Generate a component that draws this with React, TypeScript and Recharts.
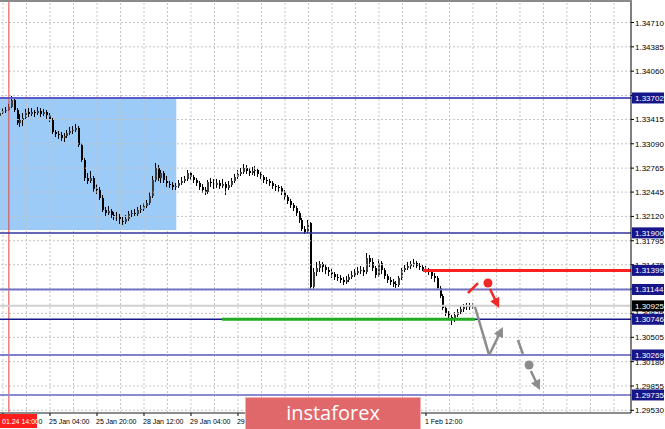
import React from "react";
import { ComposedChart, Bar, XAxis, YAxis, ReferenceLine, ReferenceArea, ReferenceDot } from "recharts";

// GBP/USD H1, 24 Jan 11:00 .. 1 Feb 2019
const firstOpen = 1.33461;
const closes = [
  1.33501, 1.33528, 1.33541, 1.33582, 1.33675, 1.33541, 1.33368, 1.33408, 1.33435, 1.33515,
  1.33488, 1.33515, 1.33501, 1.33528, 1.33488, 1.33515, 1.33475, 1.33408, 1.33248, 1.33221,
  1.33208, 1.33168, 1.33194, 1.33234, 1.33261, 1.33274, 1.33301, 1.33074, 1.32874, 1.32633,
  1.32593, 1.32633, 1.32487, 1.32473, 1.32366, 1.32205, 1.32165, 1.32192, 1.32139, 1.32112,
  1.32125, 1.32059, 1.32045, 1.32086, 1.32152, 1.32165, 1.32152, 1.32205, 1.32219, 1.32259,
  1.32299, 1.32393, 1.32606, 1.32767, 1.32633, 1.327, 1.32606, 1.32553, 1.3254, 1.32513,
  1.32526, 1.32566, 1.32593, 1.3262, 1.327, 1.32647, 1.32606, 1.32566, 1.32513, 1.32473,
  1.32446, 1.3258, 1.32566, 1.3254, 1.32566, 1.32526, 1.32553, 1.325, 1.3254, 1.32593,
  1.32647, 1.32687, 1.32713, 1.32767, 1.32727, 1.327, 1.32727, 1.3274, 1.32687, 1.32647,
  1.32606, 1.32593, 1.32566, 1.32526, 1.32513, 1.325, 1.32446, 1.32379, 1.32326, 1.32272,
  1.32232, 1.32165, 1.32072, 1.31952, 1.31912, 1.32032, 1.31177, 1.31377, 1.31431, 1.31484,
  1.31444, 1.31404, 1.31377, 1.3135, 1.3131, 1.31297, 1.3127, 1.31243, 1.3127, 1.3131,
  1.31337, 1.31364, 1.3139, 1.31404, 1.31377, 1.31564, 1.31511, 1.31431, 1.31337, 1.31497,
  1.31404, 1.31324, 1.3127, 1.31243, 1.31217, 1.31203, 1.31297, 1.31404, 1.31431, 1.31457,
  1.31484, 1.31497, 1.31457, 1.31444, 1.31417, 1.31404, 1.31377, 1.31324, 1.31297, 1.31164,
  1.31057, 1.30896, 1.3083, 1.30776, 1.30736, 1.30803, 1.30843, 1.30883, 1.3091, 1.30923,
  1.3091, 1.30925,
];
const highs = [
  1.33541, 1.33568, 1.33582, 1.33622, 1.33729, 1.33689, 1.33568, 1.33488, 1.33501, 1.33555,
  1.33568, 1.33568, 1.33541, 1.33582, 1.33568, 1.33555, 1.33541, 1.33501, 1.33435, 1.33274,
  1.33261, 1.33248, 1.33234, 1.33274, 1.33315, 1.33328, 1.33355, 1.33328, 1.33101, 1.329,
  1.327, 1.32727, 1.3266, 1.32553, 1.32513, 1.32406, 1.32246, 1.32259, 1.32219, 1.32179,
  1.32179, 1.32152, 1.32112, 1.32139, 1.32192, 1.32205, 1.32219, 1.32246, 1.32272, 1.32299,
  1.32339, 1.32446, 1.3266, 1.32834, 1.32807, 1.3274, 1.32727, 1.3266, 1.32593, 1.3258,
  1.32566, 1.32606, 1.32647, 1.3266, 1.3274, 1.32713, 1.32673, 1.32633, 1.32593, 1.32553,
  1.32513, 1.32606, 1.32633, 1.3262, 1.3262, 1.32606, 1.3262, 1.3258, 1.32593, 1.32633,
  1.32687, 1.3274, 1.32767, 1.3282, 1.32807, 1.32767, 1.3278, 1.32793, 1.32754, 1.32713,
  1.32673, 1.32647, 1.3262, 1.32593, 1.32553, 1.3254, 1.32526, 1.32473, 1.32406, 1.32353,
  1.32299, 1.32259, 1.32192, 1.32099, 1.31992, 1.32072, 1.32045, 1.31431, 1.31511, 1.31524,
  1.31511, 1.31484, 1.31444, 1.31417, 1.31377, 1.3135, 1.31337, 1.3131, 1.31324, 1.3135,
  1.3139, 1.31417, 1.31444, 1.31457, 1.31444, 1.31631, 1.31604, 1.31564, 1.31457, 1.31551,
  1.31524, 1.31431, 1.3135, 1.3131, 1.31284, 1.31257, 1.31324, 1.31431, 1.31471, 1.31511,
  1.31524, 1.31551, 1.31524, 1.31497, 1.31471, 1.31457, 1.31431, 1.31404, 1.31364, 1.31324,
  1.3119, 1.31083, 1.30923, 1.30856, 1.30803, 1.30843, 1.30883, 1.30923, 1.3095, 1.30963,
  1.30963, 1.30963,
];
const lows = [
  1.33461, 1.33488, 1.33501, 1.33528, 1.33568, 1.33515, 1.33341, 1.33315, 1.33328, 1.33408,
  1.33448, 1.33461, 1.33448, 1.33475, 1.33448, 1.33461, 1.33422, 1.33381, 1.33221, 1.33181,
  1.33155, 1.33128, 1.33114, 1.33168, 1.33208, 1.33221, 1.33248, 1.33048, 1.32847, 1.32593,
  1.32553, 1.32566, 1.32446, 1.3242, 1.32339, 1.32179, 1.32125, 1.32139, 1.32099, 1.32072,
  1.32059, 1.32019, 1.32005, 1.32019, 1.32059, 1.32112, 1.32112, 1.32125, 1.32165, 1.32192,
  1.32232, 1.32272, 1.32366, 1.3258, 1.32593, 1.32566, 1.32566, 1.32513, 1.325, 1.32473,
  1.32473, 1.325, 1.3254, 1.32566, 1.32593, 1.32606, 1.32566, 1.32526, 1.32473, 1.32433,
  1.32406, 1.3242, 1.32513, 1.32487, 1.325, 1.32487, 1.325, 1.32406, 1.32473, 1.32513,
  1.32566, 1.3262, 1.3266, 1.32687, 1.32687, 1.3266, 1.32673, 1.3266, 1.32647, 1.3262,
  1.32566, 1.32553, 1.32526, 1.32487, 1.3246, 1.32446, 1.32406, 1.32339, 1.32286, 1.32232,
  1.32192, 1.32125, 1.32032, 1.31925, 1.31885, 1.31898, 1.31137, 1.3115, 1.31324, 1.31377,
  1.31377, 1.3135, 1.31324, 1.31297, 1.3127, 1.31257, 1.3123, 1.31203, 1.31217, 1.31243,
  1.31284, 1.3131, 1.31337, 1.3135, 1.31324, 1.3135, 1.31444, 1.3139, 1.31297, 1.3131,
  1.3135, 1.31284, 1.3123, 1.31203, 1.31177, 1.31164, 1.31177, 1.3127, 1.31377, 1.31404,
  1.31417, 1.31444, 1.31431, 1.31404, 1.3139, 1.31364, 1.31337, 1.31284, 1.31243, 1.31137,
  1.3103, 1.3087, 1.3079, 1.30736, 1.30669, 1.30709, 1.30776, 1.30816, 1.30843, 1.3087,
  1.3087, 1.30883,
];

// bar index of each visible time label (bar 0 = 24 Jan 11:00);
// 30 Jan 12:00 .. 31 Jan 20:00 sit under the watermark
const timeTicks = [1, 17, 33, 49, 65, 81, 145];
const timeLabels = [
  "24 Jan 12:00", "25 Jan 04:00", "25 Jan 20:00", "28 Jan 12:00", "29 Jan 04:00",
  "29 Jan 20:00", "1 Feb 12:00",
];
const cursorBar = 3;
const cursorLabel = "01.24 14:00";
const gridBars = Array.from({ length: 27 }, (_, m) => 1 + 8 * m);

const priceTicks = [
  1.3471, 1.34385, 1.3406, 1.33735, 1.33415, 1.3309, 1.32765, 1.32445, 1.3212,
  1.31795, 1.31475, 1.3115, 1.30825, 1.30505, 1.3018, 1.29855, 1.2953,
];
const keyLevels = [1.33702, 1.319, 1.31399, 1.31144, 1.30746, 1.30269, 1.29735];
const bidPrice = 1.30925;

const zone = { from: -0.02, to: 60, top: 1.33702, bottom: 1.3194 };
const resistanceFrom = 144;
const supportFrom = 75.6;
const supportTo = 161.7;

// scenario sketch [bar, price]
const sellDash = [[159.3, 1.31097], [162.7, 1.3123]];
const sellDot = [166.1, 1.3123];
const sellArrow = [[166.8, 1.3115], [169.9, 1.30896]];
const grayPath = [[161.7, 1.3091], [166.5, 1.30268], [171.2, 1.30643]];
const grayDash = [[176.3, 1.30469], [178.0, 1.30282]];
const grayDot = [180.1, 1.30135];
const grayArrow = [[180.7, 1.30055], [183.8, 1.29801]];

const xMax = 214.8;

const candles = closes.map((c, i) => ({
  k: i,
  open: i === 0 ? firstOpen : closes[i - 1],
  close: c,
  high: highs[i],
  low: lows[i],
}));

const levelColor = ["#5a5ac8", "#3434a0", "#ff2020", "#7474c4", "#1a1a8c", "#8080cc", "#8a8ad0"];
const levelWidth = [2, 1.5, 3, 2, 1.5, 2, 2];
const font = "Liberation Sans, Arial, sans-serif";

const Candle = (props: any) => {
  const { x, y, width, height, payload } = props;
  if (!payload || height == null) return null;
  const { open, close } = payload;
  const hi = Math.max(payload.high, open, close);
  const lo = Math.min(payload.low, open, close);
  const span = hi - lo || 1e-9;
  const top = Math.min(y, y + height);
  const h = Math.abs(height);
  const cx = Math.round(x + width / 2);
  const toY = (v: number) => top + ((hi - v) / span) * h;
  const bTop = toY(Math.max(open, close));
  const bBot = toY(Math.min(open, close));
  const bear = close < open;
  return (
    <g>
      <line x1={cx - 0.5} x2={cx - 0.5} y1={top} y2={top + h} stroke="#000" strokeWidth={1} />
      <rect x={cx - 1} y={bTop} width={2} height={Math.max(1, bBot - bTop)} fill={bear ? "#000" : "#3c3c3c"} />
    </g>
  );
};

const PriceTick = (props: any) => {
  const { x, y, payload } = props;
  const v = payload.value;
  const label = Number(v).toFixed(5);
  const isBid = v === bidPrice;
  const isKey = keyLevels.indexOf(v) >= 0;
  if (!isBid && !isKey) {
    return (
      <g>
        <line x1={x} x2={x + 3} y1={y} y2={y} stroke="#000" />
        <text x={x + 4} y={y + 3} fontSize={8} fontFamily={font} fill="#000">
          {label}
        </text>
      </g>
    );
  }
  return (
    <g>
      <rect x={x + 1} y={y - 5.5} width={32} height={11} fill={isBid ? "#000" : "#16168a"} />
      <text x={x + 4} y={y + 3} fontSize={8} fontFamily={font} fill="#fff">
        {label}
      </text>
    </g>
  );
};

const TimeTick = (props: any) => {
  const { x, y, payload } = props;
  const v = payload.value;
  if (v === cursorBar) {
    return (
      <g>
        <rect x={0} y={y + 1} width={37} height={14} fill="#ff1c1c" />
        <text x={2} y={y + 11} fontSize={7} fontFamily={font} fill="#fff">
          {cursorLabel}
        </text>
      </g>
    );
  }
  const idx = timeTicks.indexOf(v);
  return (
    <g>
      <line x1={x} x2={x} y1={y} y2={y + 3} stroke="#000" />
      <text x={x - 1} y={y + 11} fontSize={7} fontFamily={font} fill="#000">
        {idx >= 0 ? timeLabels[idx] : ""}
      </text>
    </g>
  );
};

const arrowShape = (color: string, w: number) => (p: any) => {
  const { x1, y1, x2, y2 } = p;
  const dx = x2 - x1;
  const dy = y2 - y1;
  const len = Math.hypot(dx, dy) || 1;
  const ux = dx / len;
  const uy = dy / len;
  const hl = 10;
  const hw = 5;
  const bx = x2 - ux * hl;
  const by = y2 - uy * hl;
  return (
    <g>
      <line x1={x1} y1={y1} x2={bx + ux * 2} y2={by + uy * 2} stroke={color} strokeWidth={w} />
      <polygon
        points={`${x2},${y2} ${bx - uy * hw},${by + ux * hw} ${bx + uy * hw},${by - ux * hw}`}
        fill={color}
      />
    </g>
  );
};

const seg = (pts: number[][], i: number) => [
  { x: pts[i][0], y: pts[i][1] },
  { x: pts[i + 1][0], y: pts[i + 1][1] },
];

export default function App() {
  return (
    <div style={{ position: "absolute", left: 0, top: 0, width: 665, height: 429, background: "#fff", overflow: "hidden" }}>
      <ComposedChart
        width={665}
        height={429}
        data={candles}
        margin={{ top: 2, right: 0, bottom: 0, left: 0 }}
      >
        <XAxis
          dataKey="k"
          type="number"
          domain={[-0.02, xMax]}
          allowDataOverflow
          ticks={[...timeTicks, cursorBar]}
          interval={0}
          tick={<TimeTick />}
          tickLine={false}
          tickSize={0}
          tickMargin={0}
          axisLine={{ stroke: "#8c8c8c", strokeWidth: 2 }}
          height={16}
        />
        <YAxis
          orientation="right"
          type="number"
          domain={[1.29494, 1.34984]}
          allowDataOverflow
          ticks={[...priceTicks, ...keyLevels, bidPrice]}
          interval={0}
          tick={<PriceTick />}
          tickLine={false}
          tickSize={0}
          tickMargin={0}
          axisLine={{ stroke: "#000" }}
          width={34}
        />
        <ReferenceArea x1={zone.from} x2={zone.to} y1={zone.bottom} y2={zone.top} fill="#9dcbf8" fillOpacity={1} stroke="none" />
        {priceTicks.map((p) => (
          <ReferenceLine key={"h" + p} y={p} stroke="#c4c4c4" strokeDasharray="2 2" />
        ))}
        {gridBars.map((k) => (
          <ReferenceLine key={"v" + k} x={k} stroke="#c4c4c4" strokeDasharray="2 2" />
        ))}
        <ReferenceLine x={cursorBar} stroke="#e8403c" />
        <ReferenceLine y={bidPrice} stroke="#cfcfcf" strokeWidth={2} />
        {keyLevels.map((p, i) =>
          i === 2 ? null : <ReferenceLine key={"l" + p} y={p} stroke={levelColor[i]} strokeWidth={levelWidth[i]} />
        )}
        <ReferenceLine
          segment={[{ x: resistanceFrom, y: keyLevels[2] }, { x: xMax, y: keyLevels[2] }]}
          stroke="#ff2020"
          strokeWidth={3}
        />
        <ReferenceLine
          segment={[{ x: supportFrom, y: keyLevels[4] }, { x: supportTo, y: keyLevels[4] }]}
          stroke="#22aa22"
          strokeWidth={3}
        />
        <Bar
          dataKey={(d: any) => [d.low, d.high]}
          shape={(p: any) => <Candle {...p} />}
          barSize={3}
          isAnimationActive={false}
        />
        <ReferenceLine segment={seg(sellDash, 0)} stroke="#f02828" strokeWidth={2.5} />
        <ReferenceDot x={sellDot[0]} y={sellDot[1]} r={4.5} fill="#f02828" stroke="none" />
        <ReferenceLine segment={seg(sellArrow, 0)} stroke="#f02828" shape={arrowShape("#f02828", 2.5)} />
        <ReferenceLine segment={seg(grayPath, 0)} stroke="#8c8c8c" strokeWidth={2.5} />
        <ReferenceLine segment={seg(grayPath, 1)} stroke="#8c8c8c" shape={arrowShape("#8c8c8c", 2.5)} />
        <ReferenceLine segment={seg(grayDash, 0)} stroke="#8c8c8c" strokeWidth={2.5} />
        <ReferenceDot x={grayDot[0]} y={grayDot[1]} r={4.5} fill="#8c8c8c" stroke="none" />
        <ReferenceLine segment={seg(grayArrow, 0)} stroke="#8c8c8c" shape={arrowShape("#8c8c8c", 2.5)} />
      </ComposedChart>
      <div style={{ position: "absolute", left: 0, top: 0, width: 632, height: 2, background: "#8a8a8a" }} />
      <div
        style={{
          position: "absolute",
          left: 245,
          top: 397,
          width: 176,
          height: 34,
          boxSizing: "border-box",
          background: "#e0686a",
          border: "1px solid #f3b3b3",
          color: "#fff",
          fontFamily: "'Open Sans', " + font,
          fontSize: 20,
          lineHeight: "29px",
          textAlign: "center",
        }}
      >
        instaforex
      </div>
    </div>
  );
}
